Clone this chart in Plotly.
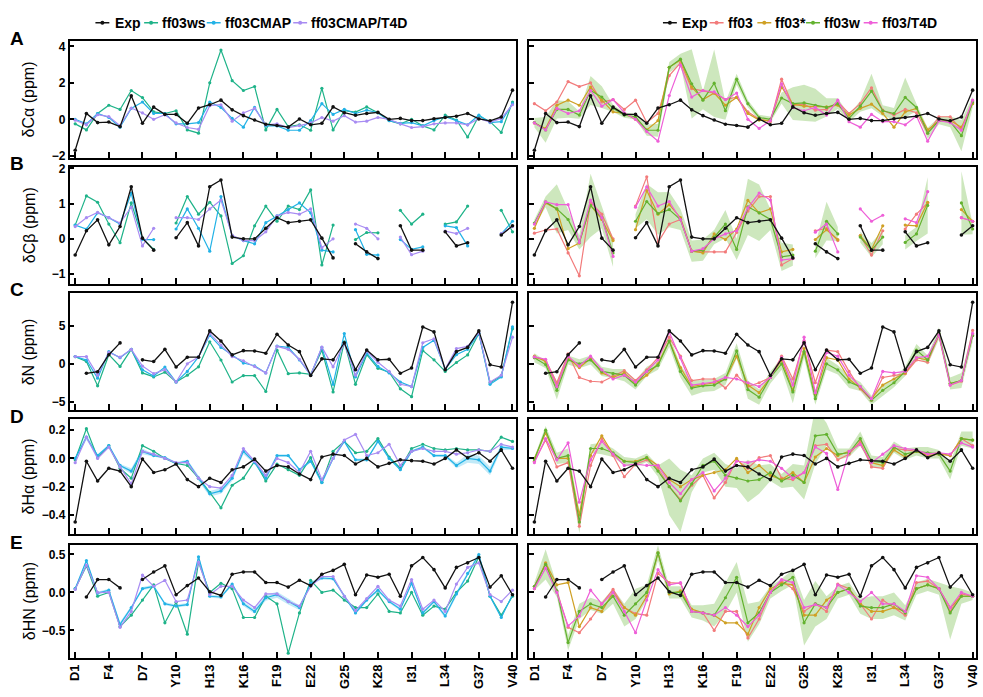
import plotly.graph_objects as go

# ---------------------------------------------------------------- data
RESIDUES = list(range(1, 41))
TICK_VALS = [1, 4, 7, 10, 13, 16, 19, 22, 25, 28, 31, 34, 37, 40]
TICK_LABELS = ["D1", "F4", "D7", "Y10", "H13", "K16", "F19", "E22",
               "G25", "K28", "I31", "L34", "G37", "V40"]

# --- A: C-alpha secondary shifts (ppm)
EXP_CA = [-1.70, 0.32, -0.18, -0.15, -0.40, 1.29, -0.22, 0.67, 0.27, 0.27, -0.22, 0.62, 0.80, 1.05, 0.52, 0.20, -0.04, -0.27, -0.34, -0.43,
          0.02, -0.30, -0.22, 0.68, 0.36, 0.22, 0.32, 0.38, 0.00, 0.05, -0.07, -0.07, 0.03, 0.10, 0.17, 0.32, 0.02, -0.08, 0.13, 1.60]
FF03WS_CA = [-0.25, -0.58, 0.32, 0.77, 0.54, 1.58, 1.19, 0.41, 0.32, 0.47, -0.58, -0.76, 2.00, 3.80, 2.12, 1.58, 1.80, -0.58, 0.54, -0.40,
             -0.30, -0.60, 1.70, -0.58, 0.47, 0.40, 0.68, 0.36, -0.07, -0.25, 0.00, -0.36, -0.58, 0.23, -0.04, -0.97, 0.18, -0.13, -0.72, 0.95]
FF03CMAP_CA = [0.00, -0.25, 0.32, 0.10, -0.43, 0.60, 0.95, 0.32, 0.32, -0.25, -0.25, -0.18, 0.95, 0.65, 0.05, -0.43, 0.65, -0.36, -0.36, -0.60,
               -0.60, -0.07, 0.86, 0.27, 0.54, 0.32, 0.50, 0.36, -0.07, -0.22, -0.18, -0.36, -0.07, 0.14, -0.07, -0.30, 0.23, -0.18, -0.13, 0.86]
FF03CMAP_T4D_CA = [-0.05, -0.30, 0.25, 0.15, -0.35, 0.62, 0.35, 0.00, 0.25, -0.20, -0.45, -0.55, 0.75, 0.80, -0.10, 0.35, 0.60, -0.30, -0.25, -0.45,
                   -0.35, -0.20, 0.10, -0.10, 0.20, -0.15, -0.10, 0.10, 0.00, -0.25, -0.45, -0.40, -0.25, -0.20, -0.20, -0.30, 0.05, -0.15, 0.05, 0.80]
FF03_CA = [0.86, 0.47, 0.95, 2.07, 1.80, 2.00, 0.95, 1.08, 0.54, 1.05, -0.18, 0.32, 2.40, 3.10, 1.68, 1.58, 1.44, 1.08, 1.22, 0.41,
           0.00, -0.13, 2.20, 0.77, 0.83, 0.50, 0.54, 0.95, 0.32, 0.86, 1.73, 0.50, 0.23, 0.54, 0.36, -0.76, 0.14, 0.14, -0.58, 0.95]
FF03S_CA = [-0.20, -0.50, 0.77, 1.05, 0.77, 1.77, 1.05, 0.41, 0.32, 0.00, -0.58, -0.07, 2.85, 3.25, 1.77, 1.08, 1.44, 0.77, 1.20, 0.32,
            -0.04, -0.07, 1.77, 0.83, 0.72, 0.72, 0.68, 0.77, 0.23, 0.60, 0.83, 0.32, -0.43, 0.41, 0.60, -0.58, -0.07, -0.07, -0.43, 0.86]
FF03W_CA = [-0.18, -0.58, 0.54, 0.54, 0.23, 1.58, 1.22, 0.60, 0.23, 0.14, -0.60, -0.60, 2.85, 3.30, 1.95, 1.05, 1.98, 0.47, 2.20, 0.86,
            0.10, 0.00, 1.17, 0.86, 0.90, 0.77, 0.65, 0.86, 0.05, 0.72, 1.55, 0.47, 0.32, 1.20, 0.65, -0.76, -0.07, -0.13, -0.90, 0.95]
FF03W_CA_ERR = [0.25, 0.70, 0.50, 0.45, 0.20, 0.80, 0.60, 0.20, 0.15, 0.15, 0.30, 0.35, 0.30, 0.30, 1.90, 0.50, 1.85, 0.50, 0.30, 0.20,
                0.15, 0.15, 0.30, 0.90, 1.00, 0.90, 0.50, 0.30, 0.20, 0.30, 0.95, 0.30, 0.30, 1.10, 0.20, 0.30, 0.20, 0.30, 0.85, 0.30]
FF03T4D_CA = [-0.20, -0.58, 0.60, 0.32, 0.47, 1.58, 0.72, 1.08, 0.36, 0.00, -0.67, -1.20, 1.30, 2.97, 1.22, 1.58, 1.50, 1.08, 1.44, 0.00,
              -0.50, -0.07, 1.95, 0.65, 0.47, 0.65, 0.23, 1.05, -0.13, -0.43, 0.27, -0.13, -0.13, -0.30, 0.18, -1.20, -0.07, -0.18, -0.60, 1.05]

# --- B: C-beta secondary shifts (ppm); glycines carry no value
EXP_CB = [-0.46, 0.23, 0.54, -0.17, 0.35, 1.48, 0.02, -0.32, None, 0.03, 0.46, -0.20, 1.48, 1.67, 0.05, 0.00, 0.00, 0.30, 0.60, 0.46,
          0.50, 0.54, 0.02, -0.54, None, -0.14, -0.37, -0.56, None, 0.37, -0.32, -0.32, None, 0.20, -0.20, -0.11, None, None, 0.11, 0.37]
FF03WS_CB = [0.39, 1.22, 1.04, 0.42, -0.11, 1.02, 0.02, -0.30, None, 0.45, 1.20, 0.70, 1.04, 0.65, -0.70, -0.48, 0.37, 0.93, 0.50, 0.93,
             0.83, 1.39, -0.74, 0.39, None, -0.02, 0.18, 0.17, None, 0.81, 0.42, 0.70, None, 0.42, 0.48, 0.93, None, None, 0.81, 0.20]
FF03CMAP_CB = [0.39, 0.28, 0.74, 0.60, 0.42, 1.30, -0.02, -0.02, None, 0.28, 0.85, 0.30, -0.35, 1.20, 0.09, -0.05, -0.14, 0.46, 0.65, 0.83,
               1.02, 0.74, -0.32, -0.37, None, 0.26, -0.44, -0.46, None, -0.02, -0.30, -0.23, None, 0.37, 0.32, -0.20, None, None, 0.14, 0.50]
FF03CMAP_T4D_CB = [0.35, 0.60, 0.75, 0.60, 0.45, 0.90, -0.20, 0.30, None, 0.60, 0.60, 0.55, 0.85, 1.10, 0.10, -0.05, -0.05, 0.20, 0.65, 0.75,
                   0.70, 0.85, -0.25, 0.00, None, 0.42, 0.30, 0.00, None, 0.05, -0.45, -0.35, None, 0.22, 0.15, 0.30, None, None, 0.15, 0.35]
FF03_CB = [0.16, 0.25, 0.28, -0.40, -1.05, 1.04, 0.70, 0.00, None, 0.93, 1.76, -0.10, 0.42, 0.55, -0.35, -0.37, -0.37, -0.37, 0.18, 0.79,
           1.20, 1.20, -0.74, -0.56, None, 0.23, 0.30, -0.05, None, 0.09, -0.46, 0.23, None, 0.28, 0.70, 1.02, None, None, 0.60, 0.50]
FF03S_CB = [0.30, 1.02, 0.85, -0.28, -0.12, 0.95, 0.55, -0.05, None, 0.26, 1.37, 0.70, 0.97, 0.60, -0.35, -0.40, 0.14, -0.02, 0.28, 1.09,
            0.74, 0.85, -0.37, -0.30, None, -0.02, 0.26, -0.02, None, 0.09, -0.30, 0.37, None, 0.39, 0.37, 1.04, None, None, 0.83, 0.50]
FF03W_CB = [0.45, 1.05, 0.85, 0.55, -0.10, 0.95, 0.60, -0.40, None, 0.50, 1.06, 0.72, 0.83, 0.55, -0.35, -0.32, 0.05, 0.42, -0.30, 0.91,
            0.74, 0.55, -0.51, -0.46, None, -0.35, 0.50, 0.14, None, 0.05, -0.32, 0.05, None, -0.10, 0.14, 0.95, None, None, 1.02, 0.28]
FF03W_CB_ERR = [0.10, 0.15, 0.70, 0.30, 0.20, 0.90, 0.30, 0.40, None, 0.20, 0.50, 0.60, 0.50, 0.30, 0.30, 0.30, 0.20, 0.40, 0.30, 0.80,
                0.80, 0.30, 0.40, 0.30, None, 0.20, 0.55, 0.20, None, 0.15, 0.20, 0.20, None, 0.20, 0.20, 0.80, None, None, 0.90, 0.15]
FF03T4D_CB = [0.42, 1.05, 0.97, 0.97, -0.10, 1.10, 0.60, -0.50, None, 0.90, 1.48, 0.93, 1.06, 0.55, -0.35, -0.28, 0.00, 0.14, 0.23, 0.88,
              1.30, 1.10, -0.60, -0.56, None, 0.19, 0.42, -0.37, None, 0.85, 0.50, 0.67, None, 0.57, 0.46, 1.34, None, None, 0.60, 0.50]

# --- C: backbone N secondary shifts (ppm)
EXP_N = [None, -1.25, -1.05, 1.20, 2.75, None, 0.52, 0.30, 1.90, -0.43, 0.87, 0.87, 4.33, 3.00, 1.17, 1.73, 1.69, 1.39, 3.90, 2.47,
         1.60, -1.55, 0.65, 0.52, 2.77, -0.78, 1.82, 0.52, 0.60, -1.25, -0.56, 4.85, 4.20, -0.78, 1.60, 2.16, 4.33, -0.13, -0.43, 8.10]
FF03WS_N = [0.95, 0.30, -2.90, 1.20, -0.35, 1.90, -1.20, -1.73, -1.10, -2.40, -1.50, -0.40, 2.90, 0.50, -2.40, -1.55, -1.55, -3.65, 1.80, -1.30,
            -1.20, -1.40, 1.80, -3.70, 2.90, -2.70, 1.20, -0.60, -1.10, -3.30, -4.33, 1.73, 0.52, -1.00, 0.17, 1.17, 4.00, -2.50, -1.60, 4.60]
FF03CMAP_N = [0.95, 0.50, -1.90, 1.60, 0.80, 1.90, -0.80, -1.60, -0.43, -2.40, -1.00, 0.90, 3.77, 2.16, 1.17, 0.10, -0.26, -1.20, 2.34, 2.16,
              0.50, -1.50, 2.16, -2.70, 3.98, -1.73, 1.40, -0.35, -1.20, -2.40, -3.00, 2.16, 3.10, -0.70, 1.20, 1.90, 4.00, -2.70, -1.73, 4.85]
FF03CMAP_T4D_N = [0.95, 0.95, -1.50, 1.50, 0.87, 1.90, -0.30, -1.30, -0.78, -2.40, 0.00, 0.90, 4.00, 2.47, 0.95, 0.40, -0.35, -1.20, 2.30, 1.90,
                  0.60, -1.50, 2.20, -0.40, 2.70, -1.50, 1.70, 0.20, -1.00, -2.70, -3.00, 2.77, 3.30, -0.70, 2.00, 2.30, 4.10, -2.40, -1.50, 3.50]
FF03_N = [0.80, 0.50, -2.50, 1.30, -1.80, -2.30, -2.40, -1.60, -0.90, -2.20, -0.80, 0.80, 3.50, 1.00, -2.20, -2.00, -2.00, -3.20, -1.50, -3.00,
          -2.50, -1.80, 1.00, -2.00, 3.00, -2.50, 1.80, 1.60, -1.00, -3.30, -4.80, -1.80, -1.50, -1.30, 0.50, 0.20, 3.80, -2.80, -2.30, 4.40]
FF03S_N = [1.00, 0.30, -3.00, 0.80, -0.50, 0.70, -1.20, -1.80, -1.20, -2.60, -1.50, 0.00, 3.00, -0.50, -3.00, -2.70, -2.50, -2.00, 1.00, -2.80,
           -3.80, -1.80, 0.50, -3.50, 2.00, -4.00, 0.80, 0.50, -2.00, -3.20, -4.60, -2.80, -2.00, -1.20, 0.80, 0.50, 3.80, -2.60, -2.20, 3.80]
FF03W_N = [0.80, -0.10, -3.50, 0.50, 0.00, 0.50, -1.00, -1.30, -1.50, -2.80, -1.00, -0.20, 3.00, -1.00, -3.20, -2.90, -2.80, -2.00, 1.70, -3.40,
           -4.40, -1.80, 0.00, -3.70, 1.60, -4.60, 0.00, -0.80, -2.40, -3.00, -4.80, -3.50, -2.50, -1.00, 1.80, 0.50, 4.00, -2.60, -2.20, 3.70]
FF03W_N_ERR = [0.60, 0.50, 1.20, 0.60, 0.60, 0.60, 0.60, 0.60, 0.80, 0.60, 0.60, 0.60, 0.80, 0.80, 1.00, 0.80, 0.80, 0.80, 1.00, 1.20,
               1.00, 0.80, 0.80, 1.50, 0.80, 0.80, 0.80, 0.60, 0.80, 0.60, 0.60, 0.80, 0.60, 0.60, 0.80, 0.60, 0.80, 0.80, 1.00, 0.80]
FF03T4D_N = [0.90, 0.60, -3.00, 1.00, -0.30, 1.00, -0.80, -2.00, -1.50, -2.40, -1.00, 0.50, 4.20, 0.80, -2.80, -2.60, -2.40, -1.80, -2.00, -2.50,
             -3.00, -1.80, 0.80, -2.80, 3.50, -3.80, 1.50, 1.00, -1.50, -3.00, -4.60, -1.00, -1.20, -1.00, 0.80, 1.00, 3.80, -2.80, -2.20, 4.00]

# --- D: H-alpha secondary shifts (ppm)
EXP_HA = [-0.45, -0.02, -0.16, -0.07, -0.09, -0.20, -0.005, -0.10, -0.08, -0.04, -0.15, -0.20, -0.14, -0.17, -0.08, -0.06, -0.005, -0.09, -0.05, -0.06,
          -0.11, -0.15, 0.01, 0.03, 0.02, -0.04, 0.00, -0.06, -0.035, -0.01, -0.016, -0.02, -0.04, 0.00, 0.06, 0.005, 0.04, -0.02, 0.06, -0.07]
FF03WS_HA = [-0.01, 0.21, 0.005, 0.09, -0.07, -0.14, 0.09, 0.05, 0.00, -0.035, -0.05, -0.14, -0.24, -0.35, -0.19, -0.14, -0.02, -0.16, -0.04, -0.08,
             -0.12, 0.005, -0.17, 0.05, 0.12, 0.04, 0.05, 0.14, 0.01, -0.07, 0.07, 0.10, 0.07, 0.06, 0.07, 0.06, 0.06, 0.05, 0.15, 0.12]
FF03CMAP_HA = [0.00, 0.15, 0.02, 0.09, -0.05, -0.09, 0.05, 0.02, 0.005, -0.035, -0.02, -0.14, -0.25, -0.23, -0.14, 0.05, -0.03, -0.14, 0.02, 0.02,
               -0.08, -0.02, -0.17, 0.00, 0.12, -0.01, -0.01, 0.12, 0.00, -0.08, 0.05, 0.08, 0.02, 0.02, -0.05, 0.00, -0.01, -0.09, 0.08, 0.07]
FF03CMAP_HA_ERR = [0.01, 0.02, 0.01, 0.01, 0.01, 0.02, 0.02, 0.01, 0.01, 0.01, 0.01, 0.02, 0.02, 0.02, 0.02, 0.02, 0.01, 0.02, 0.01, 0.01,
                   0.01, 0.01, 0.02, 0.01, 0.01, 0.01, 0.01, 0.01, 0.01, 0.01, 0.01, 0.01, 0.01, 0.01, 0.02, 0.03, 0.03, 0.03, 0.02, 0.01]
FF03CMAP_T4D_HA = [-0.03, 0.15, 0.00, 0.08, -0.06, -0.18, 0.05, 0.03, 0.00, -0.03, -0.03, -0.14, -0.20, -0.21, -0.12, 0.07, -0.02, -0.12, 0.00, -0.03,
                   -0.10, 0.05, -0.15, 0.00, 0.13, 0.17, 0.02, 0.04, 0.10, -0.05, 0.05, 0.07, 0.05, 0.05, 0.03, 0.04, 0.06, 0.05, 0.10, 0.08]
FF03_HA = [-0.02, 0.13, -0.06, -0.03, -0.48, -0.05, 0.14, 0.02, -0.13, -0.04, -0.01, -0.07, -0.20, -0.29, -0.19, -0.12, -0.28, -0.17, -0.01, -0.07,
           0.005, 0.02, -0.14, -0.15, -0.10, 0.09, 0.10, -0.01, 0.03, 0.12, -0.06, -0.07, 0.07, 0.06, 0.05, 0.03, 0.04, 0.02, 0.14, 0.09]
FF03S_HA = [0.00, 0.18, 0.00, 0.00, -0.40, 0.02, 0.16, 0.03, -0.02, -0.02, 0.005, -0.05, -0.15, -0.20, -0.15, -0.12, -0.10, -0.08, 0.00, -0.10,
            -0.05, -0.12, -0.15, -0.10, -0.17, 0.01, 0.07, 0.02, 0.05, 0.10, -0.03, -0.05, 0.06, 0.01, 0.05, 0.02, 0.03, 0.02, 0.14, 0.13]
FF03W_HA = [-0.01, 0.20, 0.00, 0.02, -0.45, 0.07, 0.07, 0.04, -0.02, -0.03, 0.005, -0.09, -0.20, -0.30, -0.18, -0.05, -0.02, -0.12, -0.14, -0.16,
            -0.15, -0.10, -0.16, -0.12, -0.17, 0.16, 0.17, 0.03, 0.04, 0.14, -0.02, -0.03, 0.08, 0.03, 0.05, 0.04, 0.03, -0.09, 0.14, 0.13]
FF03W_HA_ERR = [0.02, 0.03, 0.04, 0.05, 0.08, 0.03, 0.04, 0.03, 0.03, 0.03, 0.03, 0.04, 0.20, 0.22, 0.06, 0.05, 0.06, 0.08, 0.07, 0.15,
                0.10, 0.06, 0.05, 0.08, 0.12, 0.20, 0.08, 0.04, 0.03, 0.05, 0.04, 0.04, 0.04, 0.04, 0.03, 0.04, 0.03, 0.06, 0.05, 0.06]
FF03T4D_HA = [-0.03, 0.14, -0.01, 0.11, -0.31, -0.01, 0.12, 0.03, -0.05, -0.04, -0.05, -0.05, -0.17, -0.25, -0.15, -0.10, -0.23, -0.14, -0.02, -0.03,
              -0.01, -0.02, -0.07, -0.14, -0.10, 0.08, 0.035, -0.22, 0.05, 0.10, -0.03, 0.03, 0.09, 0.07, 0.06, 0.03, 0.04, 0.03, 0.11, 0.08]

# --- E: amide H secondary shifts (ppm)
EXP_HN = [None, -0.06, 0.17, 0.17, 0.06, None, 0.17, 0.27, 0.35, -0.03, 0.09, 0.19, 0.01, -0.04, 0.24, 0.27, 0.27, 0.13, 0.13, 0.07,
          0.16, 0.09, 0.24, 0.29, 0.37, -0.03, 0.23, 0.20, 0.24, -0.05, 0.35, 0.46, 0.30, 0.06, 0.33, 0.39, 0.46, 0.07, 0.22, -0.03]
FF03WS_HN = [0.05, 0.35, -0.05, 0.00, -0.45, -0.30, -0.10, 0.10, -0.40, -0.13, -0.55, 0.40, 0.00, 0.12, 0.05, -0.33, -0.33, -0.05, -0.15, -0.80,
             -0.27, 0.16, 0.00, 0.03, -0.10, -0.20, -0.20, -0.02, -0.25, -0.27, 0.00, -0.30, -0.18, -0.22, 0.00, 0.15, 0.47, -0.05, -0.30, -0.05]
FF03CMAP_HN = [0.05, 0.42, -0.01, 0.03, -0.42, -0.20, 0.05, 0.08, -0.15, -0.18, -0.16, 0.47, -0.05, -0.06, 0.11, -0.15, -0.25, -0.07, -0.03, -0.12,
               -0.20, 0.12, 0.19, 0.18, -0.05, -0.27, -0.10, 0.03, -0.12, -0.22, 0.12, -0.27, -0.12, -0.31, -0.02, 0.25, 0.50, -0.05, -0.33, -0.03]
FF03CMAP_HN_ERR = [0.01, 0.02, 0.02, 0.02, 0.03, 0.02, 0.02, 0.02, 0.02, 0.02, 0.02, 0.02, 0.02, 0.02, 0.02, 0.03, 0.03, 0.04, 0.04, 0.04,
                   0.03, 0.02, 0.02, 0.02, 0.02, 0.02, 0.02, 0.02, 0.02, 0.02, 0.02, 0.02, 0.02, 0.03, 0.03, 0.03, 0.03, 0.02, 0.02, 0.01]
FF03CMAP_T4D_HN = [0.04, 0.36, 0.00, 0.00, -0.46, -0.25, 0.23, 0.08, 0.16, -0.12, -0.10, 0.40, -0.03, 0.08, 0.08, -0.10, -0.20, -0.02, -0.02, -0.12,
                   -0.18, 0.08, 0.21, 0.21, -0.05, -0.24, -0.08, 0.08, -0.10, -0.18, 0.17, -0.22, -0.10, -0.25, 0.11, 0.33, 0.39, -0.03, -0.12, 0.03]
FF03_HN = [0.08, 0.38, 0.02, -0.46, -0.53, -0.35, -0.15, 0.04, -0.20, -0.28, -0.30, 0.25, 0.13, 0.12, -0.25, -0.27, -0.50, -0.25, -0.25, -0.60,
           -0.35, 0.00, 0.15, 0.05, -0.25, -0.15, -0.25, 0.11, 0.05, -0.15, -0.35, -0.10, -0.20, -0.30, 0.13, 0.15, 0.05, -0.25, -0.02, -0.05]
FF03S_HN = [0.05, 0.39, 0.10, 0.13, -0.45, -0.20, -0.25, 0.00, -0.20, -0.30, -0.05, 0.52, -0.02, 0.02, -0.22, -0.27, -0.30, -0.40, -0.40, -0.55,
            -0.20, 0.05, 0.12, 0.10, -0.30, -0.30, -0.10, 0.00, 0.05, -0.15, -0.25, -0.25, -0.20, -0.25, 0.05, 0.10, 0.05, -0.20, -0.05, -0.05]
FF03W_HN = [0.08, 0.37, 0.02, -0.66, -0.25, -0.15, -0.20, -0.05, -0.30, -0.15, 0.00, 0.52, 0.00, 0.00, -0.25, -0.27, -0.30, -0.07, 0.20, -0.40,
            -0.27, 0.00, 0.10, 0.20, -0.40, -0.15, -0.20, 0.00, 0.05, -0.18, -0.20, -0.20, -0.15, -0.27, 0.05, 0.10, 0.05, -0.27, -0.05, -0.05]
FF03W_HN_ERR = [0.05, 0.20, 0.08, 0.10, 0.10, 0.08, 0.08, 0.10, 0.15, 0.20, 0.10, 0.10, 0.08, 0.08, 0.08, 0.10, 0.15, 0.20, 0.20, 0.25,
                0.15, 0.08, 0.08, 0.10, 0.30, 0.30, 0.15, 0.08, 0.08, 0.10, 0.15, 0.15, 0.15, 0.10, 0.08, 0.08, 0.08, 0.35, 0.10, 0.05]
FF03T4D_HN = [0.05, 0.32, 0.00, -0.44, -0.31, 0.03, -0.15, 0.00, -0.25, -0.53, -0.10, 0.30, 0.10, 0.13, -0.25, -0.27, -0.30, -0.20, -0.30, -0.45,
              -0.30, 0.00, 0.17, 0.13, -0.20, -0.16, -0.20, 0.10, 0.00, -0.12, 0.00, -0.15, -0.15, -0.25, 0.22, 0.20, 0.05, -0.20, 0.00, -0.05]

# ---------------------------------------------------------------- styling
C_EXP = "#111111"
C_WS = "#1fb389"
C_CMAP = "#22b2e6"
C_CMAP_T4D = "#a88cf2"
C_FF03 = "#f27b7b"
C_FF03S = "#cfa024"
C_FF03W = "#63b22f"
C_FF03T4D = "#ee5fd8"
BAND_FF03W = "rgba(130,196,90,0.40)"
BAND_CMAP = "rgba(34,178,230,0.28)"

FONT = "Liberation Sans, Arial, sans-serif"
W, H = 983, 697

# pixel boxes of the panels (left, right) and (top, bottom)
COLS = [(68, 517), (530, 980)]
ROWS = [(37, 155), (164, 283), (292, 411), (420, 537), (548, 662)]
X_RANGE = [0.5, 40.3]

PANELS = [
    dict(letter="A", title="δCα (ppm)", yrange=[-2.11, 4.27],
         ytv=[-2, 0, 2, 4], ytt=["−2", "0", "2", "4"],
         exp=EXP_CA,
         left=[(FF03WS_CA, C_WS), (FF03CMAP_CA, C_CMAP), (FF03CMAP_T4D_CA, C_CMAP_T4D)],
         right=[(FF03_CA, C_FF03), (FF03S_CA, C_FF03S), (FF03W_CA, C_FF03W), (FF03T4D_CA, C_FF03T4D)],
         lband=None, band=(FF03W_CA, FF03W_CA_ERR)),
    dict(letter="B", title="δCβ (ppm)", yrange=[-1.28, 2.05],
         ytv=[-1, 0, 1, 2], ytt=["−1", "0", "1", "2"],
         exp=EXP_CB,
         left=[(FF03WS_CB, C_WS), (FF03CMAP_CB, C_CMAP), (FF03CMAP_T4D_CB, C_CMAP_T4D)],
         right=[(FF03_CB, C_FF03), (FF03S_CB, C_FF03S), (FF03W_CB, C_FF03W), (FF03T4D_CB, C_FF03T4D)],
         lband=None, band=(FF03W_CB, FF03W_CB_ERR)),
    dict(letter="C", title="δN (ppm)", yrange=[-6.1, 9.35],
         ytv=[-5, 0, 5], ytt=["−5", "0", "5"],
         exp=EXP_N,
         left=[(FF03WS_N, C_WS), (FF03CMAP_N, C_CMAP), (FF03CMAP_T4D_N, C_CMAP_T4D)],
         right=[(FF03_N, C_FF03), (FF03S_N, C_FF03S), (FF03W_N, C_FF03W), (FF03T4D_N, C_FF03T4D)],
         lband=None, band=(FF03W_N, FF03W_N_ERR)),
    dict(letter="D", title="δHα (ppm)", yrange=[-0.537, 0.279],
         ytv=[-0.4, -0.2, 0.0, 0.2], ytt=["−0.4", "−0.2", "0.0", "0.2"],
         exp=EXP_HA,
         left=[(FF03WS_HA, C_WS), (FF03CMAP_HA, C_CMAP), (FF03CMAP_T4D_HA, C_CMAP_T4D)],
         right=[(FF03_HA, C_FF03), (FF03S_HA, C_FF03S), (FF03W_HA, C_FF03W), (FF03T4D_HA, C_FF03T4D)],
         lband=(FF03CMAP_HA, FF03CMAP_HA_ERR), band=(FF03W_HA, FF03W_HA_ERR)),
    dict(letter="E", title="δHN (ppm)", yrange=[-0.857, 0.623],
         ytv=[-0.5, 0.0, 0.5], ytt=["−0.5", "0.0", "0.5"],
         exp=EXP_HN,
         left=[(FF03WS_HN, C_WS), (FF03CMAP_HN, C_CMAP), (FF03CMAP_T4D_HN, C_CMAP_T4D)],
         right=[(FF03_HN, C_FF03), (FF03S_HN, C_FF03S), (FF03W_HN, C_FF03W), (FF03T4D_HN, C_FF03T4D)],
         lband=(FF03CMAP_HN, FF03CMAP_HN_ERR), band=(FF03W_HN, FF03W_HN_ERR)),
]


def band_polygon(x, y, err):
    """Closed outline (one per contiguous run) of y +/- err."""
    runs, cur = [], []
    for xi, yi, ei in zip(x, y, err):
        if yi is None or ei is None:
            if cur:
                runs.append(cur)
            cur = []
        else:
            cur.append((xi, yi, ei))
    if cur:
        runs.append(cur)
    xs, ys = [], []
    for run in runs:
        xs += [p[0] for p in run] + [p[0] for p in reversed(run)] + [run[0][0], None]
        ys += [p[1] + p[2] for p in run] + [p[1] - p[2] for p in reversed(run)] + [run[0][1] + run[0][2], None]
    return xs, ys


def band_trace(y, err, fill, xa, ya):
    bx, by = band_polygon(RESIDUES, y, err)
    return go.Scatter(x=bx, y=by, mode="lines", fill="toself", fillcolor=fill,
                      line=dict(width=0), xaxis=xa, yaxis=ya, showlegend=False,
                      hoverinfo="skip")


def line_trace(y, color, xa, ya, width=1.2, size=3.2):
    return go.Scatter(x=RESIDUES, y=y, mode="lines+markers", xaxis=xa, yaxis=ya,
                      line=dict(color=color, width=width),
                      marker=dict(color=color, size=size),
                      connectgaps=False, showlegend=False, hoverinfo="skip")


fig = go.Figure()
layout = dict(width=W, height=H, margin=dict(l=0, r=0, t=0, b=0),
              paper_bgcolor="white", plot_bgcolor="white", showlegend=False)
annotations, shapes = [], []

for r, p in enumerate(PANELS):
    top, bot = ROWS[r]
    for c in range(2):
        k = r * 2 + c + 1
        xa, ya = f"x{k}", f"y{k}"
        xkey, ykey = f"xaxis{k}", f"yaxis{k}"
        left_px, right_px = COLS[c]
        layout[xkey] = dict(domain=[left_px / W, right_px / W], range=X_RANGE, anchor=ya,
                            tickmode="array", tickvals=TICK_VALS,
                            ticktext=TICK_LABELS, showticklabels=(r == 4),
                            tickangle=-90, ticks="inside", ticklen=6, tickwidth=1.5,
                            tickcolor="black", showline=True, mirror=True,
                            linecolor="black", linewidth=1.6, showgrid=False,
                            zeroline=False,
                            tickfont=dict(family=FONT, size=13, color="black", weight="bold"))
        layout[ykey] = dict(domain=[1 - bot / H, 1 - top / H], range=p["yrange"], anchor=xa,
                            tickmode="array", tickvals=p["ytv"], ticktext=p["ytt"],
                            showticklabels=(c == 0), ticks="inside", ticklen=5,
                            tickwidth=1.5, tickcolor="black", showline=True, mirror=True,
                            linecolor="black", linewidth=1.6, showgrid=False,
                            zeroline=False,
                            tickfont=dict(family=FONT, size=12, color="black", weight="bold"))

        if c == 0:
            if p["lband"] is not None:
                fig.add_trace(band_trace(p["lband"][0], p["lband"][1], BAND_CMAP, xa, ya))
            for y, col in p["left"]:
                fig.add_trace(line_trace(y, col, xa, ya))
        else:
            fig.add_trace(band_trace(p["band"][0], p["band"][1], BAND_FF03W, xa, ya))
            for y, col in p["right"]:
                fig.add_trace(line_trace(y, col, xa, ya))
        fig.add_trace(line_trace(p["exp"], C_EXP, xa, ya, width=1.3, size=3.6))

    # y-axis title and panel letter
    annotations.append(dict(text=p["title"], x=27 / W, y=1 - (top + bot) / 2 / H,
                            xref="paper", yref="paper", textangle=-90, showarrow=False,
                            font=dict(family=FONT, size=16, color="black"),
                            xanchor="center", yanchor="middle"))
    annotations.append(dict(text=f"<b>{p['letter']}</b>", x=15 / W, y=1 - (top - 3) / H,
                            xref="paper", yref="paper", showarrow=False,
                            font=dict(family=FONT, size=19, color="black"),
                            xanchor="center", yanchor="middle"))

# ---------------------------------------------------------------- legends
LEGEND_Y = 18
LEFT_LEGEND = [("Exp", C_EXP, 101, 112), ("ff03ws", C_WS, 150, 159),
               ("ff03CMAP", C_CMAP, 213, 222), ("ff03CMAP/T4D", C_CMAP_T4D, 300, 309)]
RIGHT_LEGEND = [("Exp", C_EXP, 672, 682), ("ff03", C_FF03, 719, 728),
                ("ff03*", C_FF03S, 767, 776), ("ff03w", C_FF03W, 816, 825),
                ("ff03/T4D", C_FF03T4D, 874, 883)]
for name, col, sx, tx in LEFT_LEGEND + RIGHT_LEGEND:
    yv = 1 - LEGEND_Y / H
    shapes.append(dict(type="line", xref="paper", yref="paper",
                       x0=(sx - 7) / W, x1=(sx + 7) / W, y0=yv, y1=yv,
                       line=dict(color=col, width=1.5)))
    shapes.append(dict(type="circle", xref="paper", yref="paper",
                       x0=(sx - 2) / W, x1=(sx + 2) / W,
                       y0=1 - (LEGEND_Y + 2) / H, y1=1 - (LEGEND_Y - 2) / H,
                       fillcolor=col, line=dict(color=col, width=0)))
    annotations.append(dict(text=f"<b>{name}</b>", x=tx / W, y=yv, xref="paper", yref="paper",
                            showarrow=False, xanchor="left", yanchor="middle",
                            font=dict(family=FONT, size=14, color="black")))

layout["annotations"] = annotations
layout["shapes"] = shapes
fig.update_layout(**layout)
fig.write_html("out.html")
